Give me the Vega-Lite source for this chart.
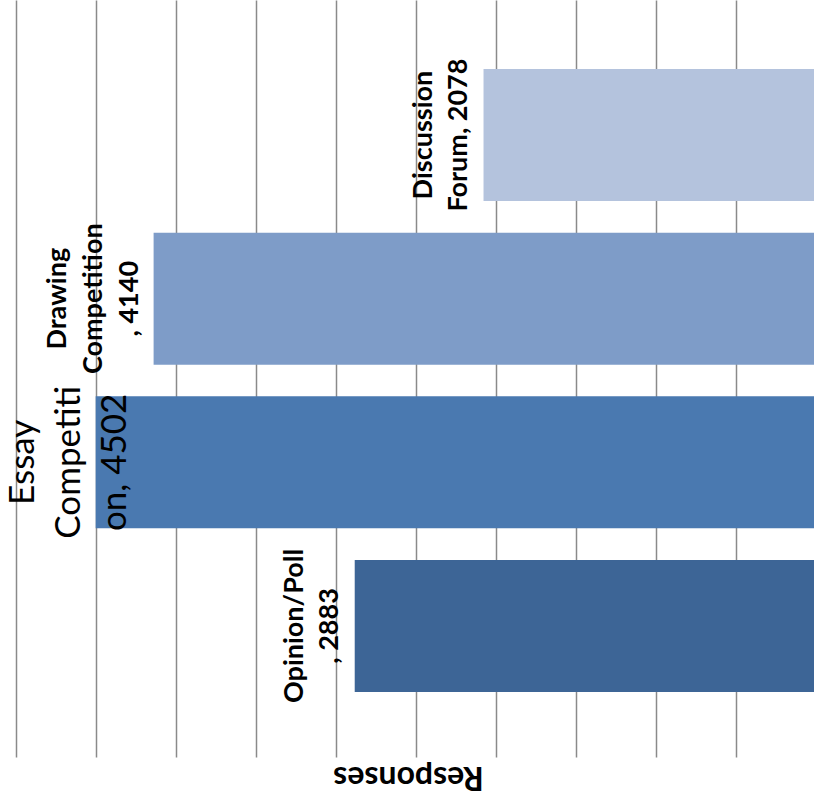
{
  "$schema": "https://vega.github.io/schema/vega-lite/v6.json",
  "width": 816,
  "height": 757,
  "autosize": {"type": "none"},
  "padding": {"left": 0, "top": 0, "right": 0, "bottom": 39},
  "background": "white",
  "config": {"view": {"stroke": null}, "font": "Lato"},
  "data": {
    "values": [
      {"activity": "Discussion Forum", "responses": 2078, "label": "Discussion\nForum, 2078", "group": "two"},
      {"activity": "Drawing Competition", "responses": 4140, "label": "Drawing\nCompetition\n, 4140", "group": "three"},
      {"activity": "Essay Competition", "responses": 4502, "label": "Essay\nCompetiti\non, 4502", "group": "plain"},
      {"activity": "Opinion/Poll", "responses": 2883, "label": "Opinion/Poll\n, 2883", "group": "two"}
    ]
  },
  "encoding": {
    "y": {
      "field": "activity",
      "type": "nominal",
      "sort": ["Discussion Forum", "Drawing Competition", "Essay Competition", "Opinion/Poll"],
      "scale": {"paddingInner": 0.1935, "paddingOuter": 0.41, "align": 0.515},
      "axis": null
    },
    "x": {
      "field": "responses",
      "type": "quantitative",
      "scale": {"domain": [0, 5100], "reverse": true, "nice": false, "zero": true},
      "axis": {
        "values": [0, 500, 1000, 1500, 2000, 2500, 3000, 3500, 4000, 4500, 5000],
        "grid": true,
        "gridColor": "#8a8a8a",
        "gridWidth": 1.5,
        "labels": false,
        "ticks": false,
        "domain": false,
        "title": "Responses",
        "titleAngle": 180,
        "titleFontSize": 32,
        "titleFontWeight": "bold",
        "titleColor": "#000000",
        "titleFont": "Lato",
        "titleBaseline": "middle",
        "titleAlign": "center",
        "titleY": 19
      }
    }
  },
  "layer": [
    {
      "mark": {"type": "bar"},
      "encoding": {
        "color": {
          "field": "activity",
          "type": "nominal",
          "scale": {
            "domain": ["Discussion Forum", "Drawing Competition", "Essay Competition", "Opinion/Poll"],
            "range": ["#b4c3dd", "#7e9cc8", "#4a79b0", "#3d6596"]
          },
          "legend": null
        }
      }
    },
    {
      "transform": [{"filter": "datum.group === 'two'"}],
      "mark": {"type": "text", "angle": 270, "align": "center", "baseline": "bottom", "fontWeight": "bold", "fontSize": 27, "lineHeight": 35, "lineBreak": "\n", "dy": -46, "color": "#000000", "font": "Lato"},
      "encoding": {"text": {"field": "label"}}
    },
    {
      "transform": [{"filter": "datum.group === 'three'"}],
      "mark": {"type": "text", "angle": 270, "align": "center", "baseline": "bottom", "fontWeight": "bold", "fontSize": 27, "lineHeight": 36, "lineBreak": "\n", "dy": -82, "color": "#000000", "font": "Lato"},
      "encoding": {"text": {"field": "label"}}
    },
    {
      "transform": [{"filter": "datum.group === 'plain'"}],
      "mark": {"type": "text", "angle": 270, "align": "center", "baseline": "bottom", "fontWeight": "normal", "fontSize": 35, "lineHeight": 46, "lineBreak": "\n", "dy": -55, "color": "#000000", "font": "Lato"},
      "encoding": {"text": {"field": "label"}}
    }
  ]
}
